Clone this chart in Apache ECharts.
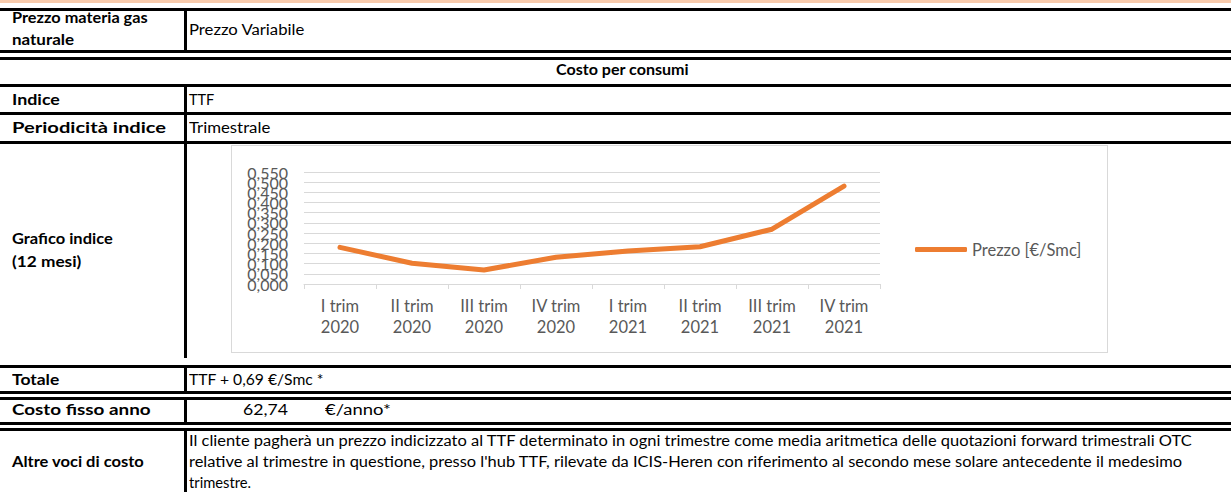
<!DOCTYPE html>
<html><head><meta charset="utf-8">
<script src="https://cdn.jsdelivr.net/npm/echarts@6/dist/echarts.min.js"></script>
<style>
html,body{margin:0;padding:0;background:#fff;width:1231px;height:492px;overflow:hidden;position:relative;font-family:Lato,'Open Sans',sans-serif;color:#000}
.h{position:absolute;left:0;width:1231px;height:3px;background:#000}
.v{position:absolute;left:184px;width:3px;background:#000}
.t{position:absolute;white-space:nowrap;font-size:14.5px;line-height:16px;height:16px;transform-origin:0 50%}
.b{font-weight:bold}
#peach{position:absolute;left:0;top:0;width:1231px;height:3px;background:#f8cbad}
#chart{position:absolute;left:231px;top:145px;width:877px;height:208px;border:1px solid #d9d9d9;box-sizing:border-box}
</style></head><body>
<div id="peach"></div>
<div class="h" style="top:8px"></div>
<div class="h" style="top:50px"></div>
<div class="h" style="top:57px"></div>
<div class="h" style="top:84px"></div>
<div class="h" style="top:112px"></div>
<div class="h" style="top:141px"></div>
<div class="h" style="top:365px"></div>
<div class="h" style="top:391px"></div>
<div class="h" style="top:397px"></div>
<div class="h" style="top:422px"></div>
<div class="h" style="top:428px"></div>
<div class="v" style="top:8px;height:45px"></div>
<div class="v" style="top:84px;height:274px"></div>
<div class="v" style="top:365px;height:29px"></div>
<div class="v" style="top:397px;height:28px"></div>
<div class="v" style="top:428px;height:64px"></div>

<div class="t b" style="left:12px;top:10px" data-w="136">Prezzo materia gas</div>
<div class="t b" style="left:12px;top:32px" data-w="62">naturale</div>
<div class="t" style="left:189px;top:22px" data-w="115">Prezzo Variabile</div>
<div class="t b" style="left:556px;top:62px" data-w="133">Costo per consumi</div>
<div class="t b" style="left:12px;top:92px" data-w="48">Indice</div>
<div class="t" style="left:189px;top:92px" data-w="25">TTF</div>
<div class="t b" style="left:12px;top:120px" data-w="154">Periodicità indice</div>
<div class="t" style="left:189px;top:120px" data-w="81">Trimestrale</div>
<div class="t b" style="left:12px;top:231px" data-w="101">Grafico indice</div>
<div class="t b" style="left:12px;top:254px" data-w="69">(12 mesi)</div>
<div class="t b" style="left:12px;top:372px" data-w="47">Totale</div>
<div class="t" style="left:189px;top:372px" data-w="134">TTF + 0,69 €/Smc *</div>
<div class="t b" style="left:12px;top:402px" data-w="139">Costo fisso anno</div>
<div class="t" style="left:243px;top:402px" data-w="45">62,74</div>
<div class="t" style="left:325px;top:402px" data-w="66">€/anno*</div>
<div class="t b" style="left:12px;top:454px" data-w="132">Altre voci di costo</div>
<div class="t" style="left:189px;top:433px" data-w="1003">Il cliente pagherà  un prezzo indicizzato al TTF determinato in ogni trimestre come media aritmetica delle quotazioni forward trimestrali OTC</div>
<div class="t" style="left:189px;top:454px" data-w="993">relative al trimestre in questione, presso l'hub TTF, rilevate da ICIS-Heren con riferimento al secondo mese solare antecedente il medesimo</div>
<div class="t" style="left:189px;top:475px" data-w="62">trimestre.</div>

<div id="chart"></div>
<script>
const seriesName = 'Prezzo [€/Smc]';
const categories = ['I trim\n2020', 'II trim\n2020', 'III trim\n2020', 'IV trim\n2020', 'I trim\n2021', 'II trim\n2021', 'III trim\n2021', 'IV trim\n2021'];
const prices = [0.180, 0.102, 0.069, 0.131, 0.162, 0.183, 0.269, 0.481];
const yMin = 0, yMax = 0.55, yStep = 0.05;

function fit() {
  document.querySelectorAll('.t[data-w]').forEach(el => {
    el.style.transform = 'none';
    const w = el.scrollWidth;
    const target = +el.dataset.w;
    if (w > 0) el.style.transform = 'scaleX(' + (target / w) + ')';
  });
}
fit();
if (document.fonts && document.fonts.ready) document.fonts.ready.then(fit);

const fmt = v => v.toFixed(3).replace('.', ',');
const isEnd = v => Math.abs(v - yMin) < 1e-9 || Math.abs(v - yMax) < 1e-9;
const yLabelBase = {color: '#595959', fontSize: 16, margin: 16, hideOverlap: false};

const chart = echarts.init(document.getElementById('chart'), null, {renderer: 'svg'});
chart.setOption({
  animation: false,
  textStyle: {fontFamily: 'Lato'},
  grid: {left: 72, top: 26, width: 576, height: 112, containLabel: false},
  legend: {
    data: [seriesName], left: 683, top: 95, padding: 0,
    itemWidth: 52, itemHeight: 5, icon: 'roundRect',
    textStyle: {color: '#595959', fontSize: 16.5}
  },
  xAxis: {
    type: 'category', data: categories, boundaryGap: true,
    axisLine: {lineStyle: {color: '#d9d9d9'}},
    axisTick: {show: true, length: 5, lineStyle: {color: '#d9d9d9'}},
    axisLabel: {color: '#595959', fontSize: 16.5, lineHeight: 21, margin: 11}
  },
  yAxis: [{
    type: 'value', position: 'left', min: yMin, max: yMax, interval: yStep,
    axisLine: {show: false}, axisTick: {show: false},
    splitLine: {lineStyle: {color: '#d9d9d9'}},
    axisLabel: Object.assign({}, yLabelBase, {showMinLabel: false, showMaxLabel: false, formatter: fmt})
  }, {
    type: 'value', position: 'left', offset: 0, min: yMin, max: yMax, interval: yStep,
    axisLine: {show: false}, axisTick: {show: false}, splitLine: {show: false},
    axisLabel: Object.assign({}, yLabelBase, {showMinLabel: true, showMaxLabel: true,
      formatter: v => isEnd(v) ? fmt(v) : ''})
  }],
  series: [{
    name: seriesName, type: 'line', data: prices, symbol: 'none', yAxisIndex: 0,
    lineStyle: {color: '#ED7D31', width: 5, cap: 'round', join: 'round'},
    itemStyle: {color: '#ED7D31'}
  }]
});
</script>
</body></html>
